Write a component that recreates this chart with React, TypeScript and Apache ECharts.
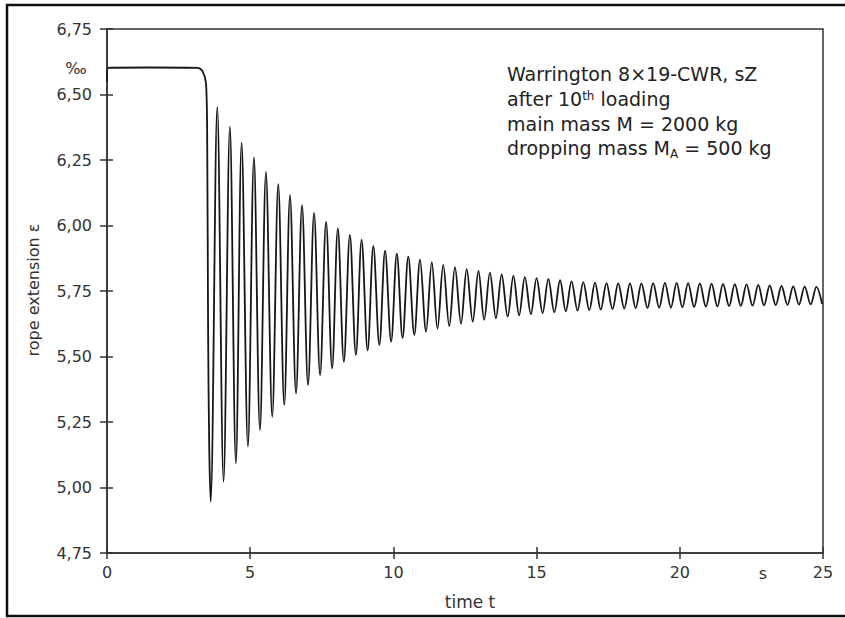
import React, { useEffect, useRef } from "react";
import * as echarts from "echarts";

// axis ticks
const xTickValues = [0, 5, 10, 15, 20, 25];
const yTickValues = [4.75, 5.0, 5.25, 5.5, 5.75, 6.0, 6.25, 6.5, 6.75];

// static load before the drop (time s, extension ‰)
const plateauTimes = [0, 0.03, 1.5, 3.15];
const plateauValues = [6.55, 6.602, 6.603, 6.602];

// sudden drop of the additional mass
const dropTimes = [3.33, 3.46, 3.5, 3.53, 3.57];
const dropValues = [6.59, 6.54, 6.3, 5.6, 5.15];

// oscillation maxima
const peakTimes = [
  3.85, 4.29, 4.7, 5.13, 5.55, 5.98, 6.39, 6.81, 7.23, 7.65, 8.06, 8.48, 8.89, 9.3, 9.71,
  10.12, 10.52, 10.93, 11.34, 11.74, 12.15, 12.56, 12.97, 13.37, 13.78, 14.19, 14.59, 15.0,
  15.41, 15.82, 16.22, 16.63, 17.04, 17.44, 17.85, 18.26, 18.66, 19.07, 19.48, 19.89, 20.29,
  20.7, 21.11, 21.51, 21.92, 22.33, 22.74, 23.14, 23.55, 23.96, 24.36, 24.77,
];
const peakValues = [
  6.453, 6.377, 6.316, 6.26, 6.205, 6.158, 6.116, 6.078, 6.048, 6.014, 5.989, 5.964, 5.945, 5.922, 5.904,
  5.893, 5.881, 5.87, 5.86, 5.85, 5.841, 5.833, 5.827, 5.82, 5.813, 5.808, 5.803, 5.799, 5.795,
  5.791, 5.787, 5.784, 5.782, 5.78, 5.779, 5.779, 5.779, 5.78, 5.781, 5.781, 5.78, 5.779, 5.778,
  5.777, 5.776, 5.775, 5.773, 5.771, 5.769, 5.768, 5.767, 5.766,
];

// oscillation minima
const troughTimes = [
  3.62, 4.07, 4.5, 4.92, 5.34, 5.77, 6.19, 6.6, 7.02, 7.44, 7.86, 8.27, 8.69, 9.1, 9.51,
  9.92, 10.32, 10.73, 11.14, 11.54, 11.95, 12.36, 12.77, 13.17, 13.58, 13.99, 14.39, 14.8,
  15.21, 15.62, 16.02, 16.43, 16.84, 17.24, 17.65, 18.06, 18.46, 18.87, 19.28, 19.69, 20.09,
  20.5, 20.91, 21.31, 21.72, 22.13, 22.54, 22.94, 23.35, 23.76, 24.16, 24.57, 24.97,
];
const troughValues = [
  4.946, 5.022, 5.092, 5.156, 5.219, 5.27, 5.315, 5.359, 5.391, 5.429, 5.455, 5.48, 5.506, 5.523, 5.544,
  5.557, 5.57, 5.583, 5.595, 5.606, 5.616, 5.625, 5.633, 5.64, 5.646, 5.652, 5.657, 5.662,
  5.666, 5.669, 5.672, 5.675, 5.677, 5.679, 5.681, 5.683, 5.684, 5.685, 5.686, 5.687, 5.688,
  5.689, 5.69, 5.691, 5.692, 5.693, 5.694, 5.695, 5.696, 5.697, 5.698, 5.699, 5.7,
];

const annotationLines = [
  "{n|Warrington 8×19-CWR, sZ}",
  "{n|after 10}{s|th}{n| loading}",
  "{n|main mass M = 2000 kg}",
  "{n|dropping mass M}{b|A}{n| = 500 kg}",
];

const FONT = "DejaVu Sans";
const AXIS = "#333";
const INK = "#222";

function buildData(): number[][] {
  const pts: number[][] = [];
  plateauTimes.forEach((t, i) => pts.push([t, plateauValues[i]]));
  dropTimes.forEach((t, i) => pts.push([t, dropValues[i]]));
  peakTimes.forEach((t, i) => pts.push([t, peakValues[i]]));
  troughTimes.forEach((t, i) => pts.push([t, troughValues[i]]));
  pts.sort((a, b) => a[0] - b[0]);
  return pts;
}

export default function App() {
  const ref = useRef<HTMLDivElement>(null);

  useEffect(() => {
    if (!ref.current) return;
    const chart = echarts.init(ref.current, null, { renderer: "svg" });
    const fmtY = (v: number) => v.toFixed(2).replace(".", ",");
    const rich = {
      n: { fontSize: 19, fontFamily: FONT, fill: INK, lineHeight: 22, verticalAlign: "top" },
      s: { fontSize: 12, fontFamily: FONT, fill: INK, lineHeight: 12, verticalAlign: "top" },
      b: { fontSize: 12, fontFamily: FONT, fill: INK, lineHeight: 12, padding: [12, 0, 0, 0], verticalAlign: "bottom" },
    };
    const lineY = [75, 100.7, 125, 149.3];
    const annot = annotationLines.map((txt, i) => ({
      type: "text",
      x: 507,
      y: lineY[i],
      silent: true,
      style: {
        text: txt,
        rich,
        align: "left",
        textAlign: "left",
        verticalAlign: "middle",
        textVerticalAlign: "middle",
        fill: INK,
      },
    }));

    const xBase = {
      type: "value",
      min: 0,
      max: 25,
      interval: 5,
      position: "bottom",
      splitLine: { show: false },
    };
    const yBase = {
      type: "value",
      min: 4.75,
      max: 6.75,
      interval: 0.25,
      position: "left",
      splitLine: { show: false },
    };

    chart.setOption({
      animation: false,
      backgroundColor: "#fff",
      grid: {
        left: 107,
        right: 22,
        top: 29,
        bottom: 65,
        show: true,
        borderColor: AXIS,
        borderWidth: 1.5,
        backgroundColor: "transparent",
      },
      xAxis: [
        {
          ...xBase,
          axisLine: { show: true, lineStyle: { color: AXIS, width: 1.5 } },
          axisTick: { show: true, length: 6, lineStyle: { color: AXIS, width: 1.5 } },
          axisLabel: {
            margin: 11,
            fontFamily: FONT,
            fontSize: 16,
            color: AXIS,
            customValues: xTickValues,
          },
        },
        {
          ...xBase,
          axisLine: { show: false },
          axisTick: { show: true, inside: true, length: 6, lineStyle: { color: AXIS, width: 1.5 } },
          axisLabel: { show: false },
        },
      ],
      yAxis: [
        {
          ...yBase,
          axisLine: { show: true, lineStyle: { color: AXIS, width: 1.5 } },
          axisTick: { show: true, length: 7, lineStyle: { color: AXIS, width: 1.5 } },
          axisLabel: {
            margin: 15,
            fontFamily: FONT,
            fontSize: 16,
            color: AXIS,
            formatter: fmtY,
            customValues: yTickValues,
          },
        },
        {
          ...yBase,
          axisLine: { show: false },
          axisTick: { show: true, inside: true, length: 6, lineStyle: { color: AXIS, width: 1.5 } },
          axisLabel: { show: false },
        },
      ],
      series: [
        {
          type: "line",
          xAxisIndex: 0,
          yAxisIndex: 0,
          data: buildData(),
          showSymbol: false,
          smooth: 0.35,
          lineStyle: { color: "#161616", width: 1.8 },
          silent: true,
        },
      ],
      graphic: [
        // outer frame (left, top, bottom)
        { type: "line", silent: true, shape: { x1: 7, y1: 4, x2: 7, y2: 617 }, style: { stroke: "#111", lineWidth: 2.5 } },
        { type: "line", silent: true, shape: { x1: 6, y1: 5, x2: 845, y2: 5 }, style: { stroke: "#111", lineWidth: 2.5 } },
        { type: "line", silent: true, shape: { x1: 6, y1: 616, x2: 845, y2: 616 }, style: { stroke: "#111", lineWidth: 2.5 } },
        {
          type: "text",
          x: 76,
          y: 68,
          silent: true,
          style: { text: "‰", font: `16px "${FONT}"`, fill: AXIS, align: "center", textAlign: "center", verticalAlign: "middle", textVerticalAlign: "middle" },
        },
        {
          type: "text",
          x: 763,
          y: 573,
          silent: true,
          style: { text: "s", font: `16px "${FONT}"`, fill: AXIS, align: "center", textAlign: "center", verticalAlign: "middle", textVerticalAlign: "middle" },
        },
        {
          type: "text",
          x: 470,
          y: 602,
          silent: true,
          style: { text: "time t", font: `17px "${FONT}"`, fill: AXIS, align: "center", textAlign: "center", verticalAlign: "middle", textVerticalAlign: "middle" },
        },
        {
          type: "text",
          x: 33,
          y: 290,
          rotation: Math.PI / 2,
          silent: true,
          style: { text: "rope extension ε", font: `16px "${FONT}"`, fill: AXIS, align: "center", textAlign: "center", verticalAlign: "middle", textVerticalAlign: "middle" },
        },
        ...annot,
      ],
    });
    return () => chart.dispose();
  }, []);

  return <div ref={ref} style={{ width: 845, height: 618, position: "absolute", left: 0, top: 0 }} />;
}
